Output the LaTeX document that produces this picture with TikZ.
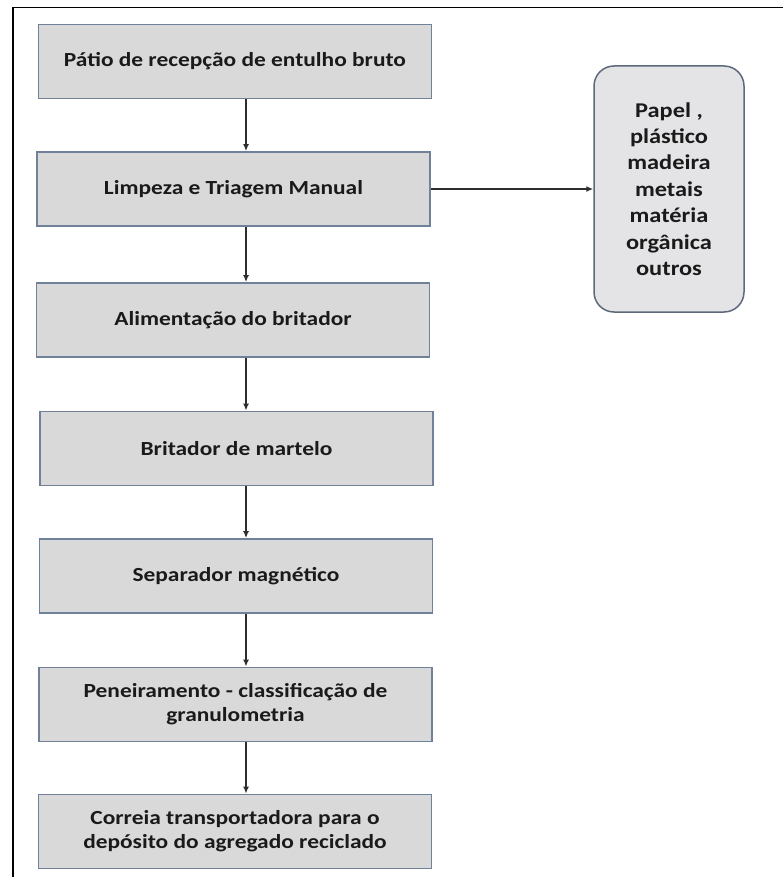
\documentclass[tikz,border=0pt]{standalone}
\usepackage{fontspec}
\setmainfont{Carlito}
\newfontfamily\widefont[FakeStretch=1.17]{Carlito}
\newfontfamily\widerfont[FakeStretch=1.16]{Carlito}
\usetikzlibrary{arrows.meta}
\definecolor{boxfill}{HTML}{D9D9D9}
\definecolor{boxline}{HTML}{71819A}
\definecolor{sidefill}{HTML}{E4E4E6}
\definecolor{sideline}{HTML}{5E6A7C}
\definecolor{txt}{HTML}{1A1A1A}
\definecolor{arrline}{HTML}{2E2E2E}
\begin{document}
\begin{tikzpicture}[x=1pt,y=-1pt,
  stepbox/.style={draw=boxline, line width=1.8pt, fill=boxfill, rectangle,
    minimum width=393pt, minimum height=74pt, inner sep=0pt, align=center,
    font=\widefont\fontsize{20}{24}\selectfont\bfseries, text=txt},
  sidebox/.style={draw=sideline, line width=1.5pt, fill=sidefill, rectangle,
    rounded corners=20pt, minimum width=150pt, minimum height=246pt, inner sep=0pt,
    align=center, font=\widerfont\fontsize{21}{26.4}\selectfont\bfseries, text=txt},
  arr/.style={draw=arrline, line width=1.5pt, -{Latex[length=7pt,width=6pt]}}]
\useasboundingbox (0,0) rectangle (783,877);
\fill[white] (0,0) rectangle (783,877);
\draw[line width=1.6pt, black] (13,877) -- (13,7.5) -- (783,7.5);

\node[stepbox] (b1) at (235,61.5) {Pátio de recepção de entulho bruto};
\node[stepbox] (b2) at (233.5,189) {Limpeza e Triagem Manual};
\node[stepbox] (b3) at (233,320) {Alimentação do britador};
\node[stepbox] (b4) at (236.5,448.5) {Britador de martelo};
\node[stepbox] (b5) at (236,576) {Separador magnético};
\node[stepbox] (b6) at (235.5,704.5) {Peneiramento - classificação de\\granulometria};
\node[stepbox] (b7) at (235,831.5) {Correia transportadora para o\\depósito do agregado reciclado};

\node[sidebox] (side) at (669,189) {Papel ,\\plástico\\madeira\\metais\\matéria\\orgânica\\outros};

\coordinate (ax) at (246,0);
\draw[arr] (b1.south -| ax) -- (b2.north -| ax);
\draw[arr] (b2.south -| ax) -- (b3.north -| ax);
\draw[arr] (b3.south -| ax) -- (b4.north -| ax);
\draw[arr] (b4.south -| ax) -- (b5.north -| ax);
\draw[arr] (b5.south -| ax) -- (b6.north -| ax);
\draw[arr] (b6.south -| ax) -- (b7.north -| ax);
\draw[arr] (b2.east) -- (side.west);
\end{tikzpicture}
\end{document}
